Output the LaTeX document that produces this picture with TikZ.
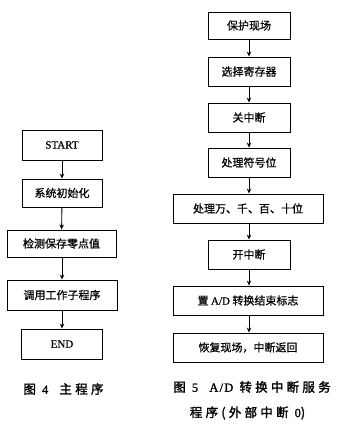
\documentclass[tikz,border=0pt]{standalone}
\usepackage{fontspec}
\setmainfont{Liberation Serif}
\newfontfamily\cjk[FakeBold=0.8]{Noto Sans CJK SC}
\newfontfamily\cjkcap[LetterSpace=26,FakeBold=1.8]{Noto Sans CJK SC}
\newfontfamily\latcap[LetterSpace=10,FakeBold=1.2]{Liberation Serif}
\newfontfamily\latbox[FakeBold=0.6]{Liberation Serif}
\usetikzlibrary{arrows.meta}
\tikzset{
  box/.style={draw=black, line width=0.9pt, minimum height=29pt, inner sep=0pt,
    font=\cjk\fontsize{11pt}{13pt}\selectfont, text=black},
  narrowbox/.style={box, minimum width=82pt},
  widebox/.style={box, minimum width=150pt},
  leftbox/.style={box, minimum width=80pt},
  leftwide/.style={box, minimum width=109pt},
  flow/.style={draw=black, line width=0.9pt, -{Stealth[length=5pt,width=4.5pt]}},
  captext/.style={font=\cjkcap\fontsize{12.5pt}{15pt}\selectfont, inner sep=0pt, text=black}
}
\begin{document}
\begin{tikzpicture}[x=1pt,y=-1pt]
\useasboundingbox[fill=white] (0,0) rectangle (350,428);
% left column
\node[leftbox, minimum height=30pt] (start) at (62,145) {\latbox\fontsize{11pt}{13pt}\selectfont START};
\node[leftbox, minimum height=28pt] (init) at (62,193) {系统初始化};
\node[leftwide, minimum height=27pt] (zero) at (61.5,243.5) {检测保存零点值};
\node[leftwide, minimum width=110pt, minimum height=30pt] (call) at (62,295) {调用工作子程序};
\node[leftbox, minimum width=81pt, minimum height=30pt] (end) at (62,344) {\latbox\fontsize{11pt}{13pt}\selectfont END};
\draw[flow] (start) -- (init);
\draw[flow] (init) -- (zero);
\draw[flow] (zero.south -| call.north) -- (call);
\draw[flow] (call) -- (end);
\node[captext] (cap4) at (63.5,389) {图 {\latcap 4}\hspace{0.9em}主程序};
% right column
\node[narrowbox, minimum height=27pt] (save) at (249,25.5) {保护现场};
\node[narrowbox] (reg) at (249,71.5) {选择寄存器};
\node[narrowbox] (di) at (249,117.5) {关中断};
\node[narrowbox] (sign) at (249,162.5) {处理符号位};
\node[widebox] (digits) at (248,208.5) {处理万、千、百、十位};
\node[narrowbox] (ei) at (249,254.5) {开中断};
\node[widebox] (flag) at (248,300.5) {置 {\latbox A/D} 转换结束标志};
\node[widebox] (ret) at (248,347.5) {恢复现场，中断返回};
\draw[flow] (save) -- (reg);
\draw[flow] (reg) -- (di);
\draw[flow] (di) -- (sign);
\draw[flow] (sign) -- (sign.south |- digits.north);
\draw[flow] (sign.south |- digits.south) -- (ei);
\draw[flow] (ei) -- (ei.south |- flag.north);
\draw[flow] (ei.south |- flag.south) -- (ei.south |- ret.north);
\node[captext] (cap5a) at (252,387) {图 {\latcap 5}\hspace{0.9em}{\latcap A/D} 转换中断服务};
\node[captext] (cap5b) at (247.5,413) {程序({外部中断} {\latcap 0})};
\end{tikzpicture}
\end{document}
